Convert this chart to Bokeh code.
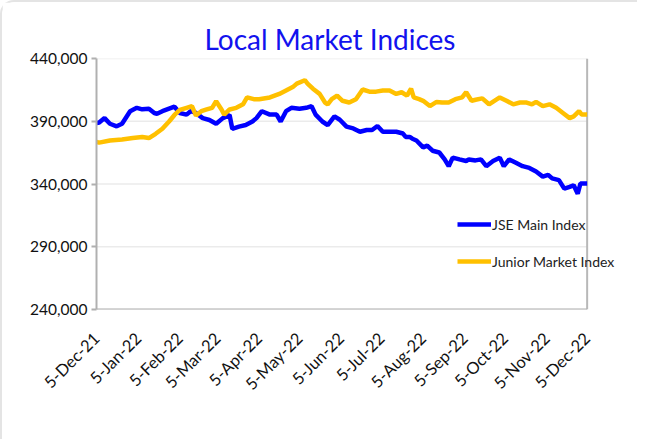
import pandas as pd
from bokeh.plotting import figure
from bokeh.models import (ColumnDataSource, FixedTicker, NumeralTickFormatter,
                          Legend, LegendItem)
from bokeh.embed import file_html
from bokeh.resources import INLINE
import math

# ---------------- data ----------------
start_date = "2021-12-05"
tick_labels = ["5-Dec-21", "5-Jan-22", "5-Feb-22", "5-Mar-22", "5-Apr-22", "5-May-22",
               "5-Jun-22", "5-Jul-22", "5-Aug-22", "5-Sep-22", "5-Oct-22", "5-Nov-22", "5-Dec-22"]

jse_days = [0, 2, 6, 10, 15, 19, 25, 30, 34, 39, 43, 45, 49, 54, 58, 62, 67, 70, 74, 79, 84, 89,
            94, 99, 101, 106, 111, 116, 119, 123, 129, 134, 137, 141, 145, 151, 156, 160, 163, 168,
            172, 177, 181, 186, 191, 196, 201, 205, 209, 213, 218, 223, 228, 230, 233, 235, 238,
            243, 246, 250, 255, 259, 262, 265, 270, 275, 277, 282, 286, 290, 295, 300, 303, 307,
            312, 317, 322, 327, 332, 336, 339, 344, 348, 352, 355, 358, 360, 365]
jse_values = [388500, 389000, 392500, 388000, 386000, 388000, 398000, 400700, 399500, 400000,
              396600, 396000, 398000, 400000, 401600, 396600, 395300, 398000, 396600, 392500,
              391000, 388000, 392500, 395000, 384000, 385700, 387000, 389800, 392500, 398000,
              395300, 395300, 389800, 398000, 400700, 400000, 400700, 402000, 395300, 389800,
              387000, 393900, 391200, 385700, 384300, 381600, 383000, 383000, 386200, 381600,
              381600, 381600, 380200, 377500, 377500, 376100, 374700, 369200, 370600, 366500,
              365100, 359600, 354200, 361000, 359600, 358300, 359600, 358800, 359600, 354200,
              358300, 361000, 354200, 359600, 356900, 354200, 352800, 350000, 345900, 347300,
              344500, 343100, 336300, 337700, 339000, 332200, 340400, 340400]

jmi_days = [0, 2, 10, 19, 27, 34, 39, 44, 49, 54, 58, 62, 67, 71, 74, 78, 82, 86, 89, 93, 95, 99,
            104, 109, 112, 117, 121, 129, 136, 141, 146, 149, 155, 157, 161, 166, 170, 172, 175,
            179, 183, 188, 193, 198, 203, 208, 213, 218, 223, 227, 231, 234, 236, 240, 243, 248,
            253, 257, 262, 267, 272, 275, 279, 282, 287, 292, 296, 300, 305, 310, 315, 320, 324,
            327, 332, 337, 342, 347, 352, 355, 359, 361, 365]
jmi_values = [373500, 373000, 374700, 375500, 376600, 377500, 376600, 380000, 384000, 389800,
              395000, 399000, 400700, 402000, 394500, 398000, 399400, 400700, 406000, 399400,
              395300, 399400, 400700, 403500, 409000, 407600, 407600, 409000, 411800, 414500,
              417200, 420000, 422700, 420000, 415900, 411800, 404900, 403500, 407600, 410400,
              406300, 404900, 407600, 415300, 413600, 413600, 414500, 414500, 411800, 413100,
              410400, 415900, 409000, 407600, 406300, 402100, 405400, 404900, 404900, 407600,
              409000, 413100, 406300, 407100, 408200, 403500, 406300, 409000, 406300, 403500,
              404900, 404900, 403500, 405400, 402100, 403500, 400700, 396600, 392500, 393900,
              398000, 395300, 395300]

y_ticks = [240000, 290000, 340000, 390000, 440000]

# ---------------- derived ----------------
t0 = pd.Timestamp(start_date)
tick_dates = pd.to_datetime(tick_labels, format="%d-%b-%y")
tick_pos = [int((d - t0).days) for d in tick_dates]
x_lo, x_hi = tick_pos[0], tick_pos[-1]

src_jse = ColumnDataSource(dict(x=jse_days, y=jse_values))
src_jmi = ColumnDataSource(dict(x=jmi_days, y=jmi_values))

FONT = "Lato"
AXIS_GRAY = "#B0B0B0"

# frame is widened to the right so the legend can overhang the plot border
extra = 33
p = figure(width=637, height=439, output_backend="svg", toolbar_location=None,
           x_range=(x_lo, x_hi + extra), y_range=(y_ticks[0], y_ticks[-1]),
           min_border_left=94, min_border_right=8, min_border_top=56, min_border_bottom=132)

p.title.text = "Local Market Indices"
p.title.text_font = FONT
p.title.text_font_size = "28px"
p.title.text_font_style = "normal"
p.title.text_color = "#1212EE"
p.title.align = "left"
p.title.offset = 108
p.title.standoff = 5

p.outline_line_color = None
p.background_fill_color = "white"
p.border_fill_color = "white"

# gridlines and plot border drawn over the plotted date span only
p.segment(x0=[x_lo] * len(y_ticks), x1=[x_hi] * len(y_ticks), y0=y_ticks, y1=y_ticks,
          line_color="#EBEBEB", line_width=1.5)
p.segment(x0=[x_hi], x1=[x_hi], y0=[y_ticks[0]], y1=[y_ticks[-1]],
          line_color="#B8B8B8", line_width=2)
p.segment(x0=[x_lo], x1=[x_hi], y0=[y_ticks[0]], y1=[y_ticks[0]],
          line_color=AXIS_GRAY, line_width=2)

l1 = p.line("x", "y", source=src_jse, line_color="#0000FF", line_width=4.5)
l2 = p.line("x", "y", source=src_jmi, line_color="#FFC000", line_width=4.5)

# axes
xa = p.xaxis[0]
xa.ticker = FixedTicker(ticks=tick_pos)
xa.major_label_overrides = {tp: lab for tp, lab in zip(tick_pos, tick_labels)}
xa.major_label_orientation = math.pi / 4
xa.major_label_text_font = FONT
xa.major_label_text_font_size = "16.5px"
xa.major_label_text_color = "#111111"
xa.major_label_standoff = 20
xa.major_tick_line_color = None
xa.minor_tick_line_color = None
xa.axis_line_color = None

ya = p.yaxis[0]
ya.ticker = FixedTicker(ticks=y_ticks)
ya.formatter = NumeralTickFormatter(format="0,0")
ya.major_label_text_font = FONT
ya.major_label_text_font_size = "15.5px"
ya.major_label_text_color = "#111111"
ya.major_label_standoff = 4
ya.major_tick_out = 5
ya.major_tick_in = 0
ya.major_tick_line_color = AXIS_GRAY
ya.major_tick_line_width = 2
ya.minor_tick_line_color = None
ya.axis_line_color = AXIS_GRAY
ya.axis_line_width = 2

p.xgrid.grid_line_color = None
p.ygrid.grid_line_color = None

legend = Legend(items=[LegendItem(label="JSE Main Index", renderers=[l1]),
                       LegendItem(label="Junior Market Index", renderers=[l2])],
                location=(361, 38), padding=0, margin=0, spacing=17,
                glyph_width=34, glyph_height=20, label_height=20, label_standoff=1,
                label_text_font=FONT, label_text_font_size="14px",
                label_text_color="#222222",
                background_fill_alpha=0, border_line_color=None)
p.add_layout(legend, "center")

p.styles = {"border-top": "2px solid #E4E4E4", "border-left": "2px solid #E4E4E4",
            "border-top-left-radius": "14px"}

open("out.html", "w").write(file_html(p, INLINE))
